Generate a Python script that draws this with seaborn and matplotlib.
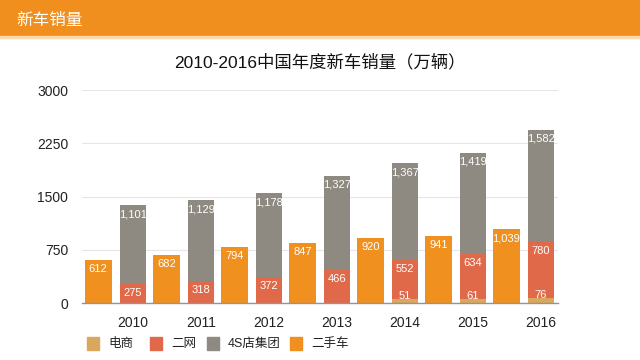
import numpy as np
import pandas as pd
import matplotlib
matplotlib.use("Agg")
import matplotlib.pyplot as plt
from matplotlib.patches import Rectangle
import seaborn as sns

# data
years = ["2010", "2011", "2012", "2013", "2014", "2015", "2016"]
ecommerce = [0, 0, 0, 0, 51, 61, 76]        # 电商
second_net = [275, 318, 372, 466, 552, 634, 780]   # 二网
dealer_4s = [1101, 1129, 1178, 1327, 1367, 1419, 1582]  # 4S店集团
used_cars = [612, 682, 794, 847, 920, 941, 1039]   # 二手车
series_names = ["电商", "二网", "4S店集团", "二手车"]

C_EC = "#d9a85c"
C_NET = "#e0694a"
C_4S = "#8e8981"
C_USED = "#f0911f"
HEADER = "#f08e1e"

sns.set_theme(style="white")
plt.rcParams["font.family"] = ["Liberation Sans", "Noto Sans CJK SC", "DejaVu Sans"]

pos = np.arange(len(years), dtype=float)
df = pd.DataFrame({
    "pos": pos,
    "used_pos": pos - 0.51,
    "ec": ecommerce,
    "net": np.array(ecommerce) + np.array(second_net),
    "total": np.array(ecommerce) + np.array(second_net) + np.array(dealer_4s),
    "used": used_cars,
})

fig = plt.figure(figsize=(6.4, 3.6), dpi=100)
ax = fig.add_axes([0.128, 0.158, 0.744, 0.592])

bw = 0.39
kw = dict(native_scale=True, saturation=1, width=bw, linewidth=0, ax=ax)
sns.barplot(data=df, x="used_pos", y="used", color=C_USED, **kw)
sns.barplot(data=df, x="pos", y="total", color=C_4S, **kw)
sns.barplot(data=df, x="pos", y="net", color=C_NET, **kw)
sns.barplot(data=df, x="pos", y="ec", color=C_EC, **kw)


def label(x, top, val, dy=-9):
    if val == 0:
        return
    ax.annotate(f"{val:,}", (x, top), xytext=(0, dy), textcoords="offset pixels",
                ha="center", va="center", color="white", fontsize=8, zorder=5)


for i in range(len(years)):
    label(df["used_pos"][i], used_cars[i], used_cars[i])
    label(pos[i], df["total"][i], dealer_4s[i])
    label(pos[i], df["net"][i], second_net[i])
    label(pos[i], df["ec"][i], ecommerce[i], dy=3)

ax.set_xlim(-0.75, 6.25)
ax.set_ylim(0, 3000)
ax.set_yticks([0, 750, 1500, 2250, 3000])
ax.set_xticks(pos)
ax.set_xticklabels(years)
ax.set_xlabel("")
ax.set_ylabel("")
ax.tick_params(axis="both", labelsize=10, colors="#222222", length=0)
ax.tick_params(axis="x", pad=9)
ax.tick_params(axis="y", pad=10)
ax.yaxis.grid(True, color="#e6e6e6", linewidth=0.8)
ax.set_axisbelow(True)
for s in ["top", "right", "left"]:
    ax.spines[s].set_visible(False)
ax.spines["bottom"].set_color("#8a96a8")
ax.spines["bottom"].set_linewidth(1)

# header band
fig.patches.append(Rectangle((0, 0.9), 1, 0.1, transform=fig.transFigure,
                             color=HEADER, zorder=0))
fig.patches.append(Rectangle((0, 0.894), 1, 0.007, transform=fig.transFigure,
                             color="#f9d9ad", zorder=0))
fig.text(0.026, 0.944, "新车销量", color="white", fontsize=12, va="center", ha="left")

fig.text(0.5, 0.828, "2010-2016中国年度新车销量（万辆）", fontsize=12.5,
         color="#111111", ha="center", va="center")

# legend drawn by hand so the spacing matches
W, H = 640, 360
legend_x = [87, 150, 207, 290]
for name, col, lx in zip(series_names, [C_EC, C_NET, C_4S, C_USED], legend_x):
    fig.patches.append(Rectangle((lx / W, 1 - 350 / H), 12 / W, 13 / H,
                                 transform=fig.transFigure, color=col))
    fig.text((lx + 21) / W, 1 - 343.5 / H, name, fontsize=9, color="#222222",
             ha="left", va="center")

fig.savefig("out.png", dpi=100)
